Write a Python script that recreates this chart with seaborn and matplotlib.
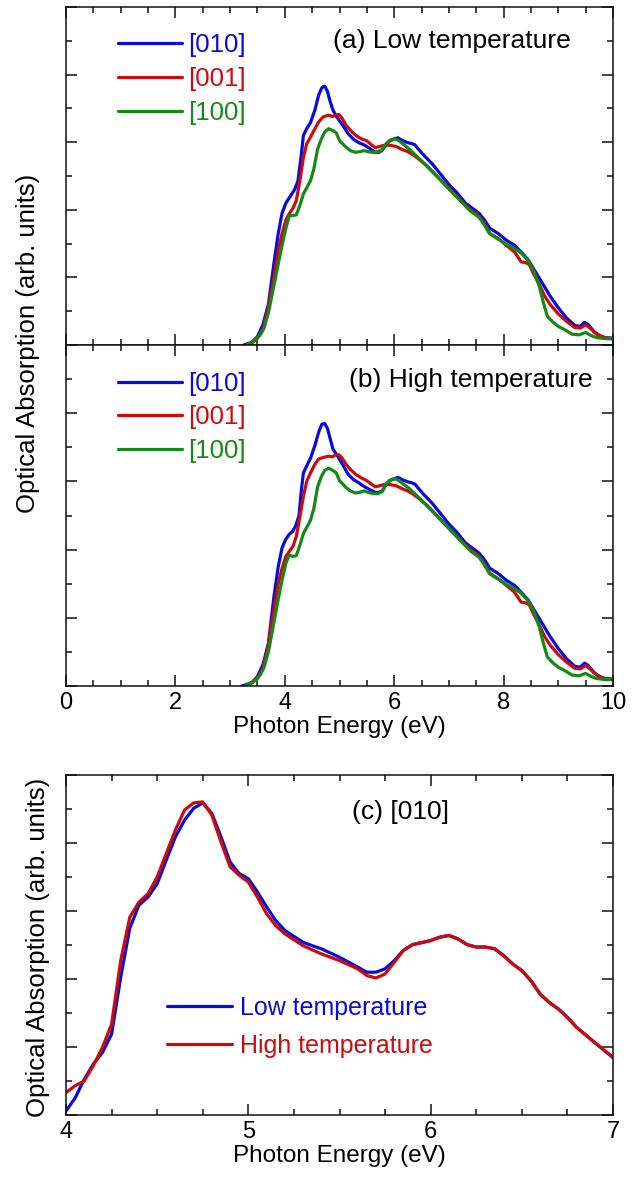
import numpy as np
import pandas as pd
import matplotlib
matplotlib.use("Agg")
import matplotlib.pyplot as plt
import seaborn as sns
from matplotlib.ticker import MultipleLocator

# ---------------- data ----------------
# Panel (a) low temperature
E_a_010 = [3.25, 3.4, 3.5, 3.6, 3.7, 3.8, 3.88, 3.95, 4.02, 4.1, 4.18, 4.24, 4.3, 4.34, 4.4, 4.47, 4.55, 4.62, 4.68, 4.73, 4.78, 4.83, 4.88, 4.95, 5.06, 5.16, 5.26, 5.36, 5.45, 5.55, 5.65, 5.72, 5.78, 5.85, 5.92, 6.0, 6.07, 6.15, 6.24, 6.32, 6.38, 6.45, 6.55, 6.7, 6.85, 7.0, 7.15, 7.3, 7.45, 7.55, 7.65, 7.75, 7.9, 8.05, 8.2, 8.35, 8.45, 8.55, 8.7, 8.85, 9.0, 9.15, 9.3, 9.4, 9.48, 9.55, 9.65, 9.75, 9.85, 10.0]
A_a_010 = [0.0, 0.08, 0.25, 0.6, 1.2, 2.4, 3.3, 3.9, 4.2, 4.4, 4.6, 4.85, 5.6, 6.2, 6.4, 6.58, 6.95, 7.4, 7.62, 7.66, 7.5, 7.2, 6.95, 6.75, 6.5, 6.25, 6.08, 5.98, 5.92, 5.82, 5.7, 5.7, 5.76, 5.92, 6.05, 6.1, 6.13, 6.05, 5.99, 5.96, 5.92, 5.78, 5.6, 5.35, 5.05, 4.75, 4.5, 4.2, 4.02, 3.9, 3.7, 3.45, 3.3, 3.1, 2.95, 2.7, 2.52, 2.25, 1.85, 1.45, 1.1, 0.8, 0.58, 0.55, 0.67, 0.6, 0.4, 0.28, 0.22, 0.2]
E_a_001 = [3.35, 3.5, 3.6, 3.7, 3.8, 3.88, 3.95, 4.02, 4.08, 4.15, 4.21, 4.28, 4.34, 4.4, 4.47, 4.55, 4.62, 4.7, 4.8, 4.87, 4.93, 4.99, 5.05, 5.12, 5.2, 5.3, 5.4, 5.5, 5.6, 5.66, 5.75, 5.85, 5.95, 6.04, 6.15, 6.25, 6.35, 6.45, 6.6, 6.75, 6.9, 7.05, 7.2, 7.35, 7.5, 7.6, 7.68, 7.75, 7.9, 8.05, 8.2, 8.32, 8.4, 8.47, 8.55, 8.65, 8.75, 8.85, 9.0, 9.15, 9.3, 9.4, 9.5, 9.58, 9.68, 9.8, 9.9, 10.0]
A_a_001 = [0.0, 0.2, 0.45, 1.1, 2.0, 2.8, 3.3, 3.7, 3.88, 4.05, 4.27, 4.9, 5.55, 5.95, 6.15, 6.4, 6.6, 6.75, 6.8, 6.76, 6.8, 6.82, 6.7, 6.5, 6.35, 6.2, 6.1, 6.04, 5.9, 5.84, 5.88, 5.92, 5.9, 5.87, 5.78, 5.72, 5.62, 5.5, 5.3, 5.05, 4.8, 4.55, 4.3, 4.05, 3.88, 3.7, 3.5, 3.3, 3.15, 2.95, 2.75, 2.46, 2.44, 2.38, 2.1, 1.8, 1.45, 1.2, 0.92, 0.7, 0.52, 0.5, 0.6, 0.5, 0.35, 0.24, 0.2, 0.19]
E_a_100 = [3.3, 3.45, 3.55, 3.62, 3.7, 3.8, 3.88, 3.95, 4.02, 4.08, 4.15, 4.21, 4.28, 4.34, 4.4, 4.47, 4.53, 4.6, 4.67, 4.73, 4.8, 4.87, 4.94, 5.0, 5.06, 5.12, 5.2, 5.29, 5.37, 5.45, 5.52, 5.6, 5.7, 5.78, 5.85, 5.92, 6.01, 6.08, 6.17, 6.27, 6.37, 6.5, 6.65, 6.8, 6.95, 7.1, 7.25, 7.4, 7.55, 7.65, 7.74, 7.85, 7.94, 8.05, 8.15, 8.3, 8.45, 8.55, 8.65, 8.72, 8.8, 8.9, 9.0, 9.12, 9.25, 9.38, 9.5, 9.6, 9.7, 9.85, 10.0]
A_a_100 = [0.0, 0.15, 0.3, 0.5, 0.95, 1.75, 2.4, 2.95, 3.45, 3.82, 3.83, 3.85, 4.15, 4.47, 4.65, 4.86, 5.2, 5.8, 6.1, 6.3, 6.4, 6.35, 6.28, 6.05, 5.95, 5.85, 5.75, 5.7, 5.72, 5.75, 5.72, 5.7, 5.72, 5.78, 5.95, 6.05, 6.1, 6.05, 5.94, 5.8, 5.65, 5.45, 5.2, 4.96, 4.7, 4.45, 4.2, 3.95, 3.78, 3.55, 3.3, 3.18, 3.1, 2.98, 2.9, 2.75, 2.5, 2.2, 1.75, 1.3, 0.85, 0.68, 0.55, 0.45, 0.32, 0.3, 0.37, 0.28, 0.22, 0.19, 0.18]

# Panel (b) high temperature
E_b_010 = [3.22, 3.4, 3.5, 3.6, 3.7, 3.8, 3.88, 3.95, 4.01, 4.08, 4.14, 4.2, 4.26, 4.3, 4.34, 4.4, 4.47, 4.55, 4.62, 4.68, 4.73, 4.78, 4.83, 4.88, 4.95, 5.06, 5.16, 5.26, 5.36, 5.45, 5.55, 5.65, 5.72, 5.78, 5.85, 5.92, 6.0, 6.07, 6.15, 6.24, 6.32, 6.38, 6.45, 6.55, 6.7, 6.85, 7.0, 7.15, 7.3, 7.45, 7.55, 7.65, 7.75, 7.9, 8.05, 8.2, 8.35, 8.45, 8.55, 8.7, 8.85, 9.0, 9.15, 9.3, 9.4, 9.48, 9.55, 9.65, 9.75, 9.85, 10.0]
A_b_010 = [0.0, 0.1, 0.28, 0.62, 1.25, 2.6, 3.5, 4.05, 4.28, 4.45, 4.53, 4.7, 5.0, 5.7, 6.25, 6.45, 6.68, 7.05, 7.45, 7.68, 7.7, 7.55, 7.25, 6.95, 6.78, 6.49, 6.2, 6.05, 5.95, 5.85, 5.76, 5.68, 5.68, 5.72, 5.9, 6.03, 6.08, 6.12, 6.05, 5.99, 5.96, 5.92, 5.78, 5.6, 5.35, 5.05, 4.75, 4.5, 4.2, 4.02, 3.9, 3.7, 3.45, 3.3, 3.1, 2.95, 2.7, 2.52, 2.25, 1.85, 1.45, 1.1, 0.8, 0.58, 0.55, 0.67, 0.6, 0.4, 0.28, 0.22, 0.2]
E_b_001 = [3.32, 3.5, 3.6, 3.7, 3.8, 3.88, 3.95, 4.02, 4.08, 4.15, 4.21, 4.28, 4.34, 4.4, 4.47, 4.55, 4.62, 4.7, 4.8, 4.87, 4.93, 4.99, 5.05, 5.12, 5.2, 5.3, 5.4, 5.5, 5.6, 5.66, 5.75, 5.85, 5.95, 6.04, 6.15, 6.25, 6.35, 6.45, 6.6, 6.75, 6.9, 7.05, 7.2, 7.35, 7.5, 7.6, 7.68, 7.75, 7.9, 8.05, 8.2, 8.32, 8.4, 8.47, 8.55, 8.65, 8.75, 8.85, 9.0, 9.15, 9.3, 9.4, 9.5, 9.58, 9.68, 9.8, 9.9, 10.0]
A_b_001 = [0.0, 0.22, 0.5, 1.2, 2.25, 3.0, 3.45, 3.8, 3.94, 4.1, 4.38, 5.0, 5.56, 6.0, 6.25, 6.5, 6.66, 6.7, 6.74, 6.72, 6.78, 6.78, 6.68, 6.5, 6.35, 6.2, 6.1, 6.02, 5.9, 5.84, 5.88, 5.92, 5.9, 5.87, 5.78, 5.72, 5.62, 5.5, 5.3, 5.05, 4.8, 4.55, 4.3, 4.05, 3.88, 3.7, 3.5, 3.3, 3.15, 2.95, 2.75, 2.46, 2.44, 2.38, 2.1, 1.8, 1.45, 1.2, 0.92, 0.7, 0.52, 0.5, 0.6, 0.5, 0.35, 0.24, 0.2, 0.19]
E_b_100 = [3.28, 3.45, 3.55, 3.62, 3.7, 3.8, 3.88, 3.95, 4.02, 4.08, 4.15, 4.21, 4.28, 4.34, 4.4, 4.47, 4.53, 4.6, 4.67, 4.73, 4.8, 4.87, 4.94, 5.0, 5.06, 5.12, 5.2, 5.29, 5.37, 5.45, 5.52, 5.6, 5.7, 5.78, 5.85, 5.92, 6.01, 6.08, 6.17, 6.27, 6.37, 6.5, 6.65, 6.8, 6.95, 7.1, 7.25, 7.4, 7.55, 7.65, 7.74, 7.85, 7.94, 8.05, 8.15, 8.3, 8.45, 8.55, 8.65, 8.72, 8.8, 8.9, 9.0, 9.12, 9.25, 9.38, 9.5, 9.6, 9.7, 9.85, 10.0]
A_b_100 = [0.0, 0.15, 0.32, 0.55, 1.0, 1.85, 2.55, 3.1, 3.6, 3.84, 3.8, 3.82, 4.15, 4.47, 4.65, 4.86, 5.2, 5.84, 6.15, 6.32, 6.39, 6.33, 6.25, 6.02, 5.92, 5.82, 5.72, 5.66, 5.68, 5.72, 5.68, 5.65, 5.64, 5.7, 5.92, 6.02, 6.08, 6.03, 5.92, 5.8, 5.65, 5.45, 5.2, 4.96, 4.7, 4.45, 4.2, 3.95, 3.78, 3.55, 3.3, 3.18, 3.1, 2.98, 2.9, 2.75, 2.5, 2.2, 1.75, 1.3, 0.85, 0.68, 0.55, 0.45, 0.32, 0.3, 0.37, 0.28, 0.22, 0.19, 0.18]

# Panel (c) [010], low vs high temperature
E_c = [4.0, 4.05, 4.1, 4.15, 4.2, 4.25, 4.3, 4.35, 4.4, 4.45, 4.5, 4.55, 4.6, 4.65, 4.7, 4.75, 4.8, 4.85, 4.9, 4.95, 5.0, 5.05, 5.1, 5.15, 5.2, 5.3, 5.35, 5.4, 5.5, 5.6, 5.65, 5.7, 5.75, 5.8, 5.85, 5.9, 6.0, 6.05, 6.1, 6.15, 6.2, 6.25, 6.3, 6.35, 6.4, 6.45, 6.5, 6.55, 6.6, 6.65, 6.7, 6.75, 6.8, 6.9, 7.0]
A_c_low = [0.12, 0.5, 1.05, 1.5, 1.84, 2.38, 4.05, 5.5, 6.17, 6.41, 6.8, 7.5, 8.18, 8.67, 9.02, 9.18, 8.87, 8.18, 7.44, 7.1, 6.95, 6.56, 6.12, 5.72, 5.43, 5.08, 4.98, 4.89, 4.64, 4.35, 4.2, 4.2, 4.3, 4.54, 4.84, 5.01, 5.13, 5.23, 5.28, 5.18, 5.01, 4.94, 4.94, 4.89, 4.69, 4.44, 4.25, 3.95, 3.56, 3.31, 3.12, 2.87, 2.58, 2.13, 1.69]
A_c_high = [0.66, 0.86, 1.0, 1.45, 1.99, 2.67, 4.54, 5.82, 6.26, 6.51, 7.0, 7.69, 8.38, 8.97, 9.18, 9.21, 8.82, 8.03, 7.3, 7.05, 6.85, 6.41, 5.92, 5.57, 5.33, 4.98, 4.86, 4.74, 4.54, 4.3, 4.1, 4.03, 4.15, 4.49, 4.84, 5.01, 5.13, 5.23, 5.28, 5.18, 5.01, 4.94, 4.94, 4.89, 4.69, 4.44, 4.25, 3.95, 3.56, 3.31, 3.12, 2.87, 2.58, 2.13, 1.69]

directions = ["[010]", "[001]", "[100]"]
temps = ["Low temperature", "High temperature"]
panel_labels = ["(a) Low temperature", "(b) High temperature", "(c) [010]"]
xlabel = "Photon Energy (eV)"
ylabel = "Optical Absorption (arb. units)"

BLUE, RED, GREEN = "#0a0adc", "#cc0c0c", "#138a13"
pal_dir = {"[010]": BLUE, "[001]": RED, "[100]": GREEN}
pal_temp = {"Low temperature": BLUE, "High temperature": RED}

def long_df(xs, ys, names, key):
    frames = [pd.DataFrame({"E": x, "A": y, key: n}) for x, y, n in zip(xs, ys, names)]
    return pd.concat(frames, ignore_index=True)

df_a = long_df([E_a_010, E_a_001, E_a_100], [A_a_010, A_a_001, A_a_100], directions, "dir")
df_b = long_df([E_b_010, E_b_001, E_b_100], [A_b_010, A_b_001, A_b_100], directions, "dir")
df_c = long_df([E_c, E_c], [A_c_low, A_c_high], temps, "T")

# ---------------- style ----------------
sns.set_theme(style="ticks")
plt.rcParams["font.family"] = ["Liberation Sans", "DejaVu Sans"]
plt.rcParams["axes.linewidth"] = 1.1
plt.rcParams["axes.edgecolor"] = "#111111"
plt.rcParams["text.color"] = "black"
plt.rcParams["axes.labelcolor"] = "black"
plt.rcParams["xtick.color"] = "#111111"
plt.rcParams["ytick.color"] = "#111111"
plt.rcParams["xtick.labelcolor"] = "black"

fig = plt.figure(figsize=(6.41, 11.80), dpi=100)
L, W = 66 / 641, 547 / 641
ax_a = fig.add_axes([L, 1 - 345 / 1180, W, 338 / 1180])
ax_b = fig.add_axes([L, 1 - 686 / 1180, W, 341 / 1180])
ax_c = fig.add_axes([L, 1 - 1115 / 1180, W, 340 / 1180])

LW = 2.3
for ax, df in [(ax_a, df_a), (ax_b, df_b)]:
    sns.lineplot(data=df, x="E", y="A", hue="dir", hue_order=directions,
                 palette=pal_dir, sort=False, estimator=None, linewidth=LW, ax=ax)
sns.lineplot(data=df_c, x="E", y="A", hue="T", hue_order=temps,
             palette=pal_temp, sort=False, estimator=None, linewidth=LW, ax=ax_c)

def style_axis(ax, xlim, xmaj, xmin, show_xlabels):
    ax.set_xlim(*xlim)
    ax.set_ylim(0, 10)
    ax.xaxis.set_major_locator(MultipleLocator(xmaj))
    ax.xaxis.set_minor_locator(MultipleLocator(xmin))
    ax.yaxis.set_major_locator(MultipleLocator(2))
    ax.yaxis.set_minor_locator(MultipleLocator(1))
    ax.tick_params(which="both", direction="in", top=True, right=True,
                   width=1.1)
    ax.tick_params(which="major", length=8)
    ax.tick_params(which="minor", length=4.5)
    ax.tick_params(axis="y", labelleft=False)
    ax.tick_params(axis="x", labelsize=17, pad=4, labelbottom=show_xlabels)
    ax.set_ylabel("")
    ax.set_xlabel(xlabel if show_xlabels else "", fontsize=17.5, labelpad=2)
    for s in ax.spines.values():
        s.set_visible(True)

style_axis(ax_a, (0, 10), 2, 0.5, False)
style_axis(ax_b, (0, 10), 2, 0.5, True)
style_axis(ax_c, (4, 7), 1, 0.25, True)

# legends
for ax in (ax_a, ax_b):
    ax.legend(loc="upper left", bbox_to_anchor=(0.095, 0.922), frameon=False,
              fontsize=18.5, handlelength=2.5, handletextpad=0.25,
              labelspacing=0.38, borderpad=0, borderaxespad=0,
              labelcolor="linecolor", title=None)
ax_c.legend(loc="upper left", bbox_to_anchor=(0.185, 0.35), frameon=False,
            fontsize=18, handlelength=2.6, handletextpad=0.3,
            labelspacing=0.55, borderpad=0, borderaxespad=0,
            labelcolor="linecolor", title=None)
for ax in (ax_a, ax_b, ax_c):
    for h in ax.get_legend().legend_handles:
        h.set_linewidth(LW)

ax_a.text(0.923, 0.90, panel_labels[0], transform=ax_a.transAxes,
          ha="right", va="center", fontsize=19)
ax_b.text(0.962, 0.897, panel_labels[1], transform=ax_b.transAxes,
          ha="right", va="center", fontsize=19)
ax_c.text(0.612, 0.89, panel_labels[2], transform=ax_c.transAxes,
          ha="center", va="center", fontsize=19)

fig.text(28 / 641, 1 - 343 / 1180, ylabel, rotation=90, ha="center",
         va="center", fontsize=18.5)
fig.text(38 / 641, 1 - 947 / 1180, ylabel, rotation=90, ha="center",
         va="center", fontsize=18.5)

fig.savefig("out.png", dpi=100)
